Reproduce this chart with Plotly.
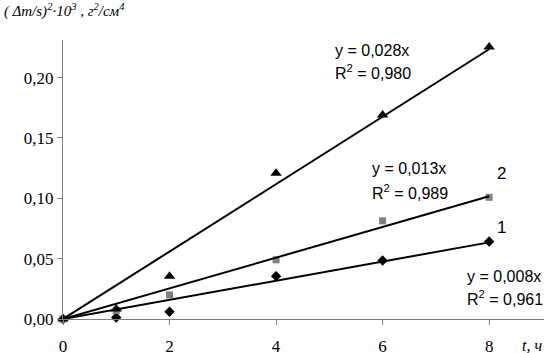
import numpy as np
import plotly.graph_objects as go

t_hours = [0, 1, 2, 4, 6, 8]
series1 = [0.0, 0.0012, 0.006, 0.0355, 0.0485, 0.0642]
series2 = [0.0, 0.007, 0.020, 0.049, 0.0813, 0.1008]
series3 = [0.0, 0.0083, 0.0355, 0.1207, 0.169, 0.2254]
series_names = ["1", "2", "3"]
eq_texts = ["y = 0,008x", "y = 0,013x", "y = 0,028x"]
r2_texts = ["R<sup>2</sup> = 0,961", "R<sup>2</sup> = 0,989", "R<sup>2</sup> = 0,980"]
y_ticks = [0, 0.05, 0.10, 0.15, 0.20]
x_ticks = [0, 2, 4, 6, 8]

SERIF = "Liberation Serif, Times New Roman, serif"
SANS = "Liberation Sans, Arial, sans-serif"

fig = go.Figure()

styles = [
    dict(symbol="diamond", color="black", size=8),
    dict(symbol="square", color="#808080", size=7),
    dict(symbol="triangle-up", color="black", size=10),
]
all_series = [series1, series2, series3]

x = np.array(t_hours, dtype=float)
for ys, st in zip(all_series, styles):
    fig.add_trace(go.Scatter(x=t_hours, y=ys, mode="markers",
                             marker=dict(symbol=st["symbol"], color=st["color"], size=st["size"],
                                         line=dict(width=0)),
                             cliponaxis=False, showlegend=False))

for ys in all_series:
    y = np.array(ys)
    slope = (x * y).sum() / (x * x).sum()
    xl = np.array([0.0, 8.0])
    fig.add_trace(go.Scatter(x=xl, y=slope * xl, mode="lines",
                             line=dict(color="black", width=2),
                             cliponaxis=False, showlegend=False))

eq_font = dict(family=SANS, size=16, color="black")
eq_pos = [(7.54, 0.0354, 0.0171), (5.76, 0.1249, 0.1049), (5.07, 0.2227, 0.2048)]
for (px, py1, py2), e, r in zip(eq_pos, eq_texts, r2_texts):
    fig.add_annotation(x=px, y=py1, text=e, showarrow=False, xanchor="left", yanchor="middle", font=eq_font)
    fig.add_annotation(x=px, y=py2, text=r, showarrow=False, xanchor="left", yanchor="middle", font=eq_font)

lab_pos = [(8.23, 0.0762), (8.23, 0.1205), (8.23, 0.257)]
for (px, py), n in zip(lab_pos, series_names):
    fig.add_annotation(x=px, y=py, text=n, showarrow=False, xanchor="center", yanchor="middle",
                       font=dict(family=SANS, size=17, color="black"))

fig.add_annotation(xref="paper", yref="paper", x=-0.127, y=1.105, xanchor="left", yanchor="middle",
                   text="<i>( Δm/s)<sup>2</sup>·10<sup>3</sup> , г<sup>2</sup>/см<sup>4</sup></i>",
                   showarrow=False, font=dict(family=SERIF, size=15, color="black"))
fig.add_annotation(xref="paper", yref="paper", x=1.0, y=-0.095, xanchor="right", yanchor="middle",
                   text="<i>t, ч</i>", showarrow=False,
                   font=dict(family=SERIF, size=16, color="black"))

tick_font = dict(family=SERIF, size=17, color="black")
fig.update_xaxes(range=[0, 9.03], tickvals=x_ticks, showgrid=False, zeroline=False,
                 showline=True, linecolor="#808080", linewidth=1, automargin=False,
                 ticks="outside", ticklen=5, tickcolor="#808080", tickfont=tick_font,
                 ticklabelstandoff=7)
fig.update_yaxes(range=[0, 0.2311], tickvals=y_ticks, tickformat=".2f", showgrid=False, zeroline=False,
                 showline=True, linecolor="#808080", linewidth=1, automargin=False,
                 ticks="outside", ticklen=5, tickcolor="#808080", tickfont=tick_font)

fig.update_layout(width=544, height=353, margin=dict(l=63, r=0, t=40, b=34),
                  plot_bgcolor="white", paper_bgcolor="white", separators=", ",
                  font=dict(family=SERIF))

fig.write_html("out.html", config={"displayModeBar": False},
               post_script="document.body.style.margin='0';document.body.style.overflow='hidden';")
